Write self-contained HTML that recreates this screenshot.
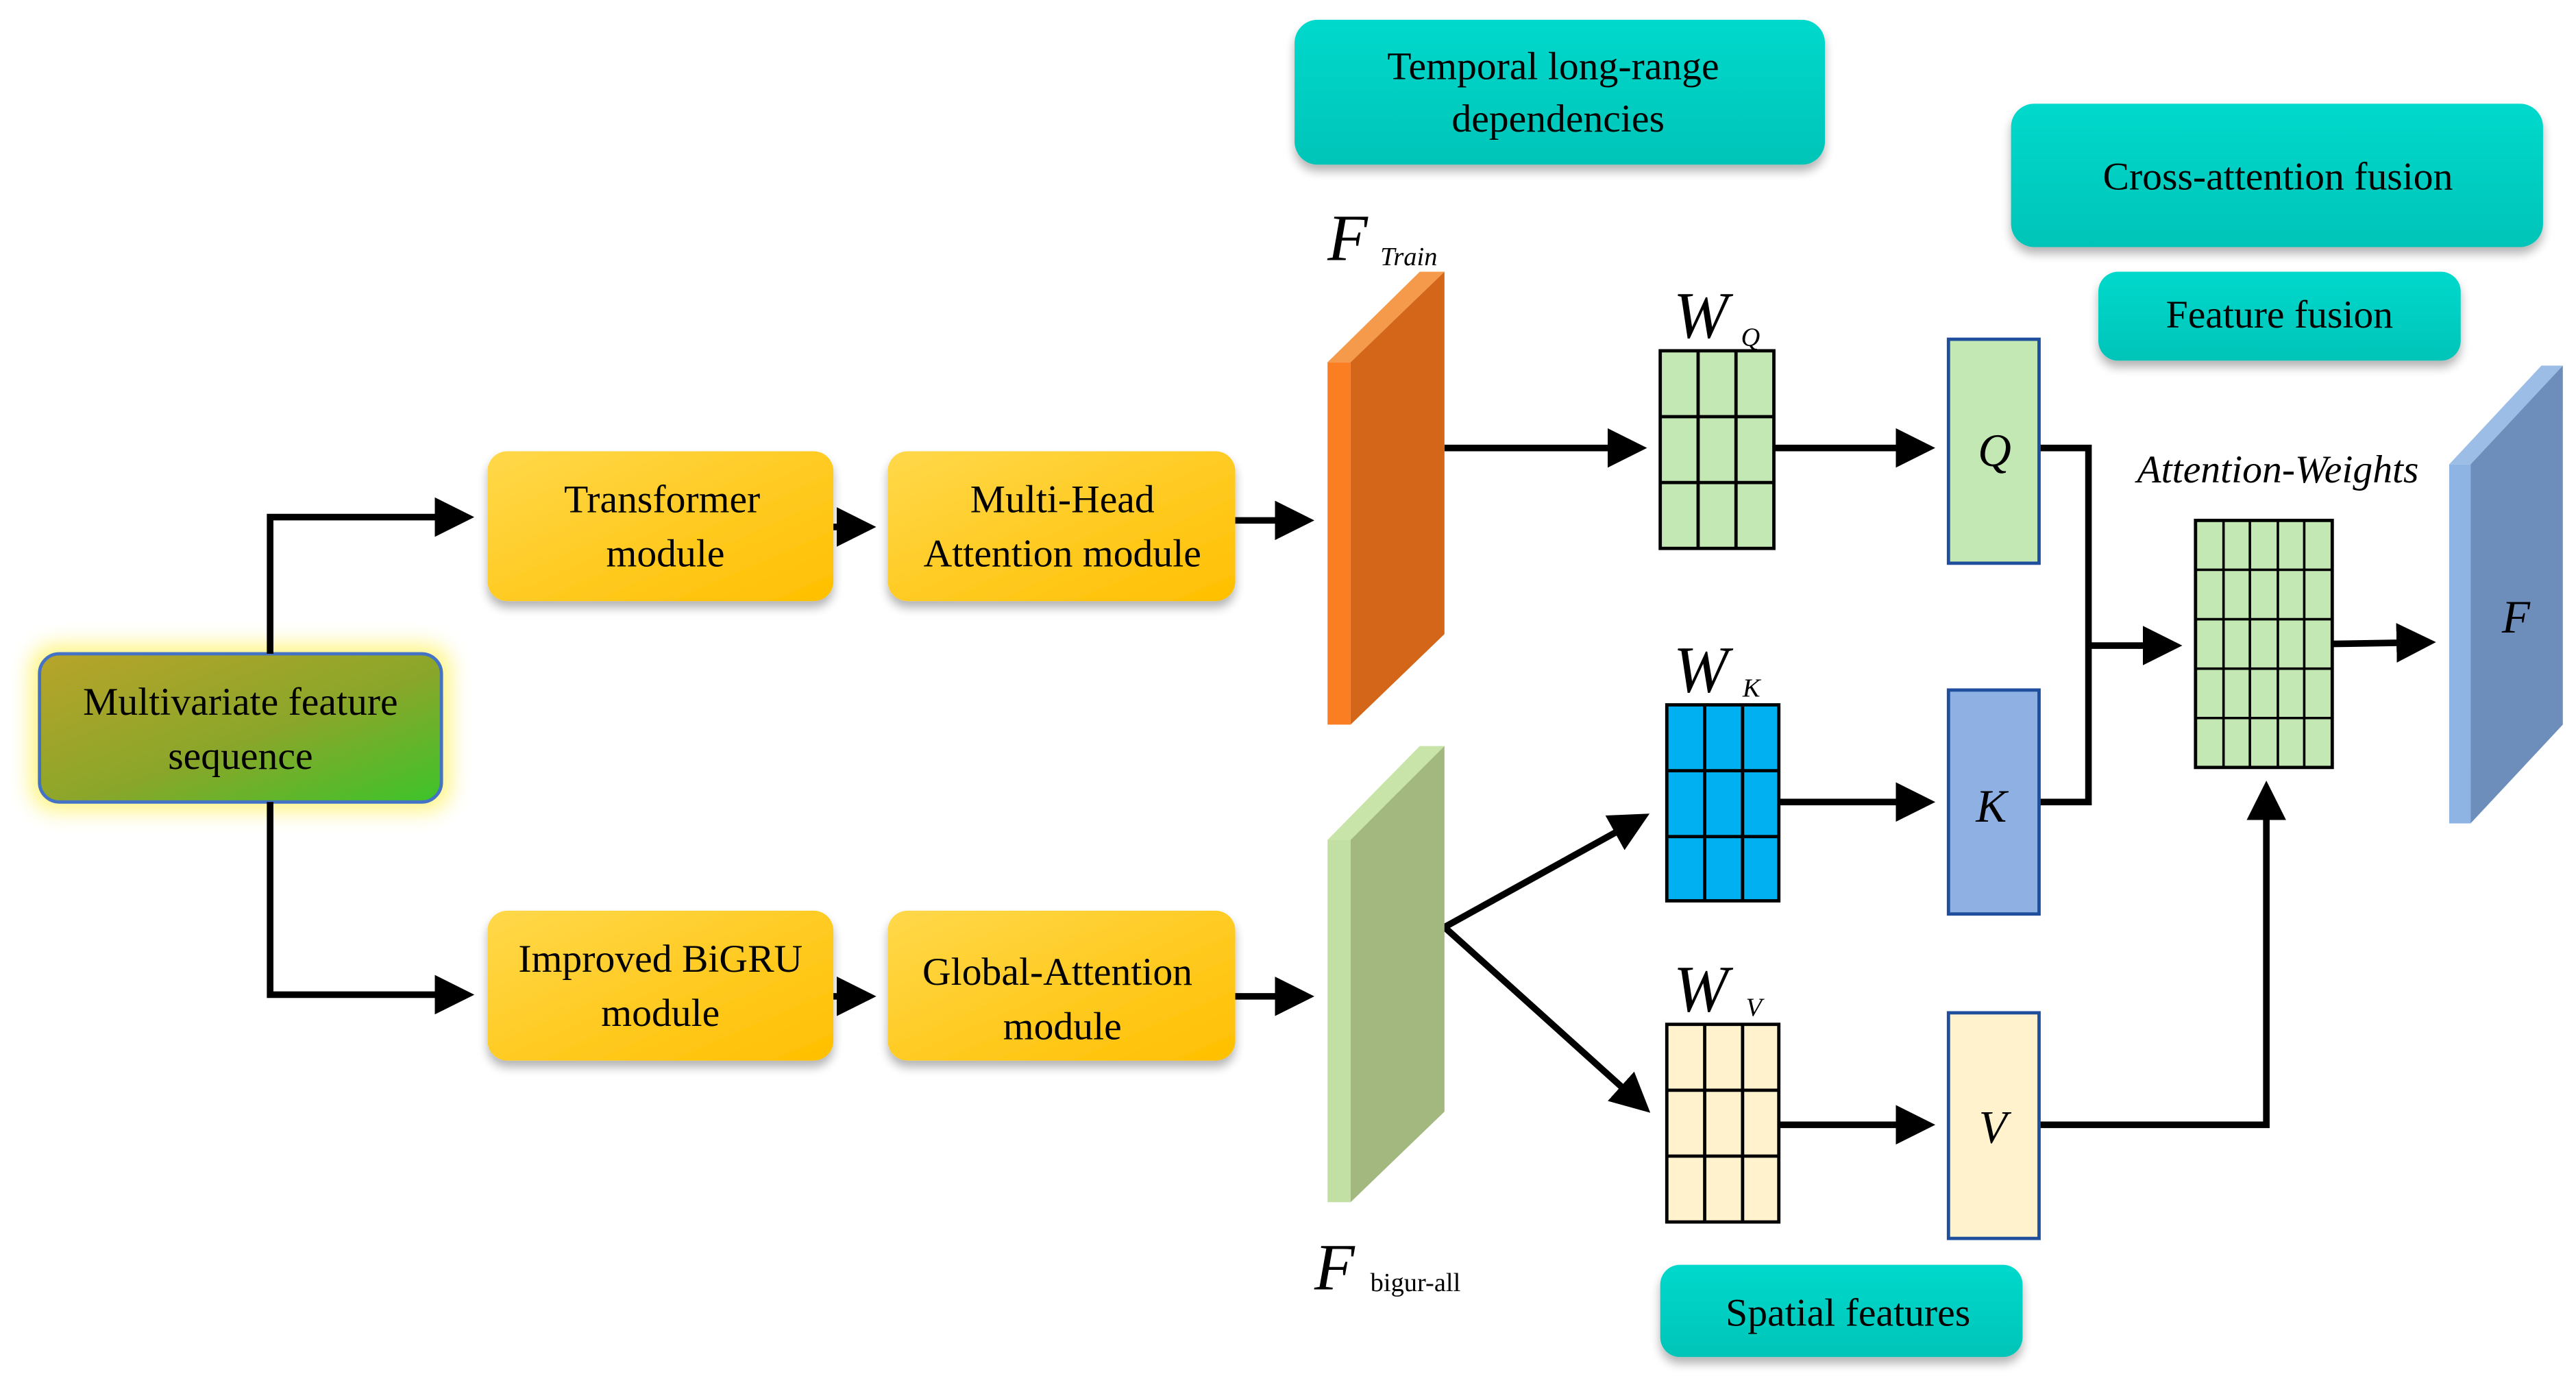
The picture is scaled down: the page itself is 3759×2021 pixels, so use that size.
<!DOCTYPE html>
<html><head><meta charset="utf-8"><style>
html,body{margin:0;padding:0;background:#fff;}
svg{display:block;}
text{font-family:"Liberation Serif",serif;fill:#000;}
</style></head><body>
<svg width="3759" height="2021" viewBox="0 0 1564 841" preserveAspectRatio="none" xmlns="http://www.w3.org/2000/svg">
<defs>
<linearGradient id="yel" x1="0" y1="0" x2="1" y2="1"><stop offset="0" stop-color="#ffd84a"/><stop offset="1" stop-color="#ffbf00"/></linearGradient>
<linearGradient id="mv" x1="0" y1="0" x2="1" y2="1"><stop offset="0" stop-color="#b8a42a"/><stop offset="0.55" stop-color="#8aa62a"/><stop offset="1" stop-color="#3cc42a"/></linearGradient>
<linearGradient id="teal" x1="0" y1="0" x2="0" y2="1"><stop offset="0" stop-color="#00d9cc"/><stop offset="1" stop-color="#00c4b8"/></linearGradient>
<filter id="sh" x="-20%" y="-20%" width="140%" height="150%"><feGaussianBlur in="SourceAlpha" stdDeviation="3"/><feOffset dy="4"/><feComponentTransfer><feFuncA type="linear" slope="0.3"/></feComponentTransfer><feMerge><feMergeNode/><feMergeNode in="SourceGraphic"/></feMerge></filter>
<filter id="glow" x="-20%" y="-30%" width="140%" height="160%"><feGaussianBlur stdDeviation="6"/></filter>
<marker id="ar" markerWidth="6" markerHeight="6" refX="5" refY="3" orient="auto" markerUnits="strokeWidth"><path d="M0,0 L6,3 L0,6 z" fill="#000"/></marker>
</defs>

<!-- teal boxes -->
<rect x="786" y="12" width="322" height="88" rx="14" fill="url(#teal)" filter="url(#sh)"/>
<text x="943" y="48" font-size="24" text-anchor="middle">Temporal long-range</text>
<text x="946" y="80" font-size="24" text-anchor="middle">dependencies</text>
<rect x="1221" y="63" width="323" height="87" rx="14" fill="url(#teal)" filter="url(#sh)"/>
<text x="1383" y="115" font-size="24" text-anchor="middle">Cross-attention fusion</text>
<rect x="1274" y="165" width="220" height="54" rx="12" fill="url(#teal)" filter="url(#sh)"/>
<text x="1384" y="199" font-size="24" text-anchor="middle">Feature fusion</text>
<rect x="1008" y="768" width="220" height="56" rx="12" fill="url(#teal)" filter="url(#sh)"/>
<text x="1122" y="805" font-size="24" text-anchor="middle">Spatial features</text>

<!-- multivariate -->
<rect x="18" y="391" width="256" height="102" rx="16" fill="#fff36a" filter="url(#glow)" opacity="0.8"/>
<rect x="24" y="397" width="244" height="90" rx="12" fill="url(#mv)" stroke="#4472c4" stroke-width="2"/>
<text x="146" y="434" font-size="24" text-anchor="middle">Multivariate feature</text>
<text x="146" y="467" font-size="24" text-anchor="middle">sequence</text>

<!-- yellow boxes -->
<g filter="url(#sh)">
<rect x="296" y="274" width="210" height="91" rx="12" fill="url(#yel)"/>
<rect x="539" y="274" width="211" height="91" rx="12" fill="url(#yel)"/>
<rect x="296" y="553" width="210" height="91" rx="12" fill="url(#yel)"/>
<rect x="539" y="553" width="211" height="91" rx="12" fill="url(#yel)"/>
</g>
<g font-size="24" text-anchor="middle">
<text x="402" y="311">Transformer</text><text x="404" y="344">module</text>
<text x="645" y="311">Multi-Head</text><text x="645" y="344">Attention module</text>
<text x="401" y="590">Improved BiGRU</text><text x="401" y="623">module</text>
<text x="642" y="598">Global-Attention</text><text x="645" y="631">module</text>
</g>

<!-- connectors -->
<g stroke="#000" stroke-width="4" fill="none">
<polyline points="164,397 164,314 284,314" marker-end="url(#ar)"/>
<polyline points="164,487 164,604 284,604" marker-end="url(#ar)"/>
<line x1="506" y1="320" x2="528" y2="320" marker-end="url(#ar)"/>
<line x1="506" y1="605" x2="528" y2="605" marker-end="url(#ar)"/>
<line x1="750" y1="316" x2="794" y2="316" marker-end="url(#ar)"/>
<line x1="750" y1="605" x2="794" y2="605" marker-end="url(#ar)"/>
<line x1="877" y1="272" x2="996" y2="272" marker-end="url(#ar)"/>
<line x1="1077" y1="272" x2="1171" y2="272" marker-end="url(#ar)"/>
<line x1="1080" y1="487" x2="1171" y2="487" marker-end="url(#ar)"/>
<line x1="1080" y1="683" x2="1171" y2="683" marker-end="url(#ar)"/>
<line x1="877" y1="563" x2="998" y2="496" marker-end="url(#ar)"/>
<line x1="877" y1="563" x2="999" y2="673" marker-end="url(#ar)"/>
<polyline points="1238,272 1268,272 1268,487 1238,487"/>
<line x1="1268" y1="392" x2="1321" y2="392" marker-end="url(#ar)"/>
<line x1="1416" y1="391" x2="1475" y2="390" marker-end="url(#ar)"/>
<polyline points="1238,683 1376,683 1376,478" marker-end="url(#ar)"/>
</g>

<!-- orange prism -->
<polygon points="806,220 862,165 877,165 820,220" fill="#f59a4a"/>
<rect x="806" y="220" width="14" height="220" fill="#fb7f22"/>
<polygon points="820,220 877,165 877,385 820,440" fill="#d4661a"/>
<text x="806" y="158" font-size="40" font-style="italic">F</text>
<text x="838" y="161" font-size="16" font-style="italic">Train</text>

<!-- green prism -->
<polygon points="806,510 862,453 877,453 820,510" fill="#c9e4a8"/>
<rect x="806" y="510" width="14" height="220" fill="#c3e0a4"/>
<polygon points="820,510 877,453 877,675 820,730" fill="#a2b87e"/>
<text x="798" y="783" font-size="40" font-style="italic">F</text>
<text x="832" y="784" font-size="16">bigur-all</text>

<!-- blue prism F -->
<polygon points="1487,282 1543,222 1556,222 1500,282" fill="#9cbde6"/>
<rect x="1487" y="282" width="13" height="218" fill="#8eb4e3"/>
<polygon points="1500,282 1556,222 1556,440 1500,500" fill="#6d8dbb"/>
<text x="1519" y="384" font-size="28" font-style="italic">F</text>

<!-- W grids -->
<g stroke="#000" stroke-width="2">
<rect x="1008" y="213" width="69" height="120" fill="#c4e8b4"/>
<line x1="1031" y1="213" x2="1031" y2="333"/><line x1="1054" y1="213" x2="1054" y2="333"/>
<line x1="1008" y1="253" x2="1077" y2="253"/><line x1="1008" y1="293" x2="1077" y2="293"/>
<rect x="1012" y="428" width="68" height="119" fill="#00b0f0"/>
<line x1="1035" y1="428" x2="1035" y2="547"/><line x1="1058" y1="428" x2="1058" y2="547"/>
<line x1="1012" y1="468" x2="1080" y2="468"/><line x1="1012" y1="508" x2="1080" y2="508"/>
<rect x="1012" y="622" width="68" height="120" fill="#fff2cc"/>
<line x1="1035" y1="622" x2="1035" y2="742"/><line x1="1058" y1="622" x2="1058" y2="742"/>
<line x1="1012" y1="662" x2="1080" y2="662"/><line x1="1012" y1="702" x2="1080" y2="702"/>
</g>
<g font-style="italic">
<text x="1016" y="205" font-size="40">W</text><text x="1057" y="210" font-size="16">Q</text>
<text x="1016" y="420" font-size="40">W</text><text x="1058" y="423" font-size="16">K</text>
<text x="1016" y="614" font-size="40">W</text><text x="1060" y="617" font-size="16">V</text>
</g>

<!-- Q K V boxes -->
<rect x="1183" y="206" width="55" height="136" fill="#c4e8b4" stroke="#1f4e9c" stroke-width="2"/>
<rect x="1183" y="419" width="55" height="136" fill="#8eb0e3" stroke="#1f4e9c" stroke-width="2"/>
<rect x="1183" y="615" width="55" height="137" fill="#fff2cc" stroke="#1f4e9c" stroke-width="2"/>
<g font-style="italic" font-size="28" text-anchor="middle">
<text x="1211" y="283">Q</text><text x="1209" y="499">K</text><text x="1210" y="694">V</text>
</g>

<!-- attention grid -->
<g stroke="#000" stroke-width="1.5">
<rect x="1333" y="316" width="83" height="150" fill="#c4e8b4" stroke-width="2"/>
<line x1="1350" y1="316" x2="1350" y2="466"/><line x1="1366" y1="316" x2="1366" y2="466"/>
<line x1="1383" y1="316" x2="1383" y2="466"/><line x1="1399" y1="316" x2="1399" y2="466"/>
<line x1="1333" y1="346" x2="1416" y2="346"/><line x1="1333" y1="376" x2="1416" y2="376"/>
<line x1="1333" y1="406" x2="1416" y2="406"/><line x1="1333" y1="436" x2="1416" y2="436"/>
</g>
<text x="1383" y="293" font-size="24" font-style="italic" text-anchor="middle">Attention-Weights</text>
</svg>
</body></html>
